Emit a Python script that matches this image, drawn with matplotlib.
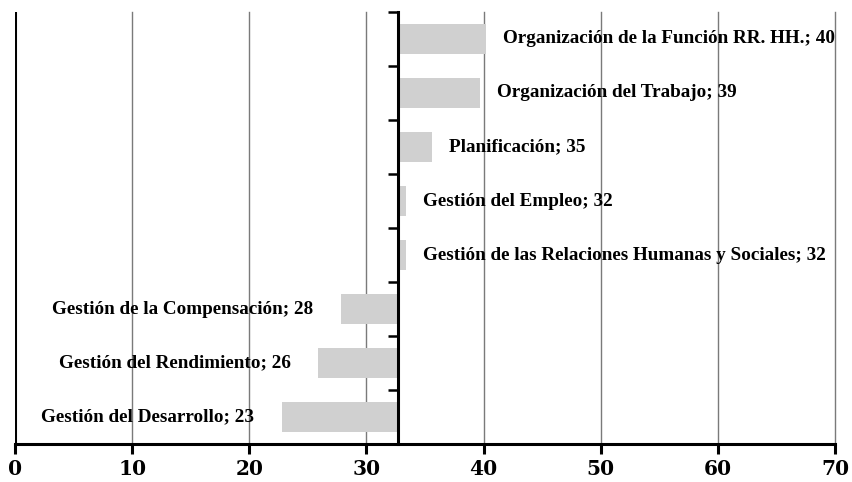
import matplotlib
matplotlib.use("Agg")
import matplotlib.pyplot as plt
from matplotlib.transforms import offset_copy

categories = [
    "Organización de la Función RR. HH.",
    "Organización del Trabajo",
    "Planificación",
    "Gestión del Empleo",
    "Gestión de las Relaciones Humanas y Sociales",
    "Gestión de la Compensación",
    "Gestión del Rendimiento",
    "Gestión del Desarrollo",
]
bar_values = [40.2, 39.7, 35.6, 33.4, 33.4, 27.8, 25.9, 22.8]
label_values = [40, 39, 35, 32, 32, 28, 26, 23]
base = 32.66
x_ticks = [0, 10, 20, 30, 40, 50, 60, 70]

plt.rcParams['font.family'] = ['Liberation Serif', 'DejaVu Serif']
fig = plt.figure(figsize=(8.52, 4.82), dpi=100)
ax = fig.add_axes([15/852, 38/482, 820/852, 432/482])

ypos = list(range(len(categories)))
ax.set_xlim(0, 70)
ax.set_ylim(len(categories) - 0.5, -0.5)

for x in x_ticks[1:]:
    ax.axvline(x, color='#7a7a7a', lw=1.0, zorder=0, clip_on=False)
ax.axvline(0, color='black', lw=2.2, zorder=3)

widths = [v - base for v in bar_values]
ax.barh(ypos, widths, left=base, height=0.56, color='#d0d0d0', zorder=1)

for y, v, name, lv in zip(ypos, bar_values, categories, label_values):
    txt = f"{name}; {lv}"
    if v >= base:
        tr = offset_copy(ax.transData, fig=fig, x=17, y=0, units='dots')
        ax.text(v, y, txt, transform=tr, ha='left', va='center',
                fontsize=13.8, fontweight='bold')
    else:
        tr = offset_copy(ax.transData, fig=fig, x=-28, y=0, units='dots')
        ax.text(v, y, txt, transform=tr, ha='right', va='center',
                fontsize=13.8, fontweight='bold')

for s in ['top', 'right']:
    ax.spines[s].set_visible(False)
ax.spines['left'].set_position(('data', base))
ax.spines['left'].set_linewidth(2.2)
ax.spines['left'].set_zorder(4)
ax.spines['bottom'].set_linewidth(2.2)

ax.set_yticks([i - 0.5 for i in range(len(categories) + 1)])
ax.set_yticklabels([])
ax.tick_params(axis='y', direction='out', length=7, width=1.8)
ax.set_xticks(x_ticks)
ax.set_xticklabels([str(t) for t in x_ticks], family='DejaVu Serif',
                   fontweight='bold', fontsize=14.5)
ax.tick_params(axis='x', direction='out', length=7, width=2.2, pad=4)

fig.savefig("out.png", dpi=100)
